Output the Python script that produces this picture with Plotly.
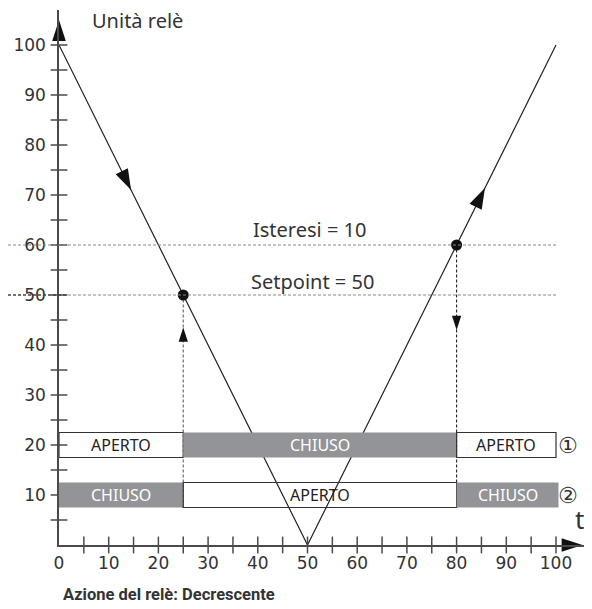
import plotly.graph_objects as go

# ---- data ----
V_X = [0, 50, 100]
V_Y = [100, 0, 100]
SETPOINT = 50
HYST_LEVEL = 60
SWITCH_POINTS_X = [25, 80]
SWITCH_POINTS_Y = [50, 60]

X_TICKS = list(range(0, 101, 10))
X_MINOR = list(range(5, 101, 5))
Y_TICKS = list(range(10, 101, 10))
Y_MINOR = list(range(5, 101, 5))

# relay bars: (start, end, state)
RELAY1_Y = 20
RELAY1_START = [0, 25, 80]
RELAY1_END = [25, 80, 100]
RELAY1_STATE = ["APERTO", "CHIUSO", "APERTO"]
RELAY2_Y = 10
RELAY2_START = [0, 25, 80]
RELAY2_END = [25, 80, 100.5]
RELAY2_STATE = ["CHIUSO", "APERTO", "CHIUSO"]
BAR_H = 5

# ---- layout constants (page has an 8px body margin) ----
W, H = 584, 601
ML, MR, MT, MB = 51, 0, 2, 64
PW = W - ML - MR
PH = H - MT - MB
PX_X = 4.97
PX_Y = 5.0
XMAX = PW / PX_X
YMAX = PH / PX_Y

GRAY = "#929497"
AX = "#4a4a4a"
TXT = "#333333"
FONT = "Noto Sans"
NUMFONT = "DejaVu Sans"

fig = go.Figure()

# V line
fig.add_trace(go.Scatter(x=V_X, y=V_Y, mode="lines",
                         line=dict(color="#222", width=1.2), hoverinfo="skip"))

# vertical dotted lines
fig.add_trace(go.Scatter(x=[SWITCH_POINTS_X[0]] * 2, y=[7.5, SWITCH_POINTS_Y[0]], mode="lines",
                         line=dict(color="#777", width=1.3, dash="3px,2px"), hoverinfo="skip"))
fig.add_trace(go.Scatter(x=[SWITCH_POINTS_X[1]] * 2, y=[7.5, SWITCH_POINTS_Y[1]], mode="lines",
                         line=dict(color="#222", width=1.1, dash="3px,2px"), hoverinfo="skip"))

shapes = []
# horizontal dotted lines (from page edge to x=100)
for lvl, col in [(HYST_LEVEL, "#888"), (SETPOINT, "#888")]:
    shapes.append(dict(type="line", xref="paper", yref="y",
                       x0=-ML / PW, x1=100 / XMAX, y0=lvl, y1=lvl,
                       line=dict(color=col, width=1.2, dash="3px,2px")))
shapes.append(dict(type="line", xref="paper", yref="y",
                   x0=-ML / PW, x1=8 / PW, y0=SETPOINT, y1=SETPOINT,
                   line=dict(color="#222", width=1.2, dash="3px,2px")))

annotations = []
for yc, starts, ends, states in [(RELAY1_Y, RELAY1_START, RELAY1_END, RELAY1_STATE),
                                 (RELAY2_Y, RELAY2_START, RELAY2_END, RELAY2_STATE)]:
    for s, e, st in zip(starts, ends, states):
        if st == "CHIUSO":
            shapes.append(dict(type="rect", xref="x", yref="y", x0=s, x1=e,
                               y0=yc - BAR_H / 2, y1=yc + BAR_H / 2,
                               fillcolor=GRAY, line=dict(width=0), layer="above"))
            tc = "white"
        else:
            shapes.append(dict(type="rect", xref="x", yref="y", x0=s, x1=e,
                               y0=yc - BAR_H / 2, y1=yc + BAR_H / 2,
                               fillcolor="rgba(0,0,0,0)", line=dict(color="#333", width=1.2),
                               layer="above"))
            tc = "#222"
        annotations.append(dict(x=(s + e) / 2, y=yc, text=st, showarrow=False,
                                font=dict(family=FONT, size=16, color=tc),
                                xref="x", yref="y"))

# axis tick marks (crossing)
fig.add_trace(go.Scatter(x=[0] * len(Y_MINOR), y=Y_MINOR, mode="markers",
                         marker=dict(symbol="line-ew", size=12, line=dict(color=AX, width=1.5)),
                         cliponaxis=False, hoverinfo="skip"))
fig.add_trace(go.Scatter(x=X_MINOR, y=[0] * len(X_MINOR), mode="markers",
                         marker=dict(symbol="line-ns", size=12, line=dict(color=AX, width=1.5)),
                         cliponaxis=False, hoverinfo="skip"))

# switching points
fig.add_trace(go.Scatter(x=SWITCH_POINTS_X, y=SWITCH_POINTS_Y, mode="markers",
                         marker=dict(color="#111", size=11), hoverinfo="skip"))

# direction arrows on V line
ang = 26.4
fig.add_trace(go.Scatter(x=[14.5, 85.7], y=[71, 71.4], mode="markers",
                         marker=dict(symbol="arrow", size=22, color="#111",
                                     angle=[180 - ang, ang]), hoverinfo="skip"))
# arrows on dotted verticals
fig.add_trace(go.Scatter(x=[25, 80], y=[43.5, 43], mode="markers",
                         marker=dict(symbol="arrow", size=15, color="#111", angle=[0, 180]),
                         hoverinfo="skip"))
# axis arrowheads
fig.add_trace(go.Scatter(x=[0, XMAX - 1.9], y=[YMAX - 2.0, 0], mode="markers",
                         marker=dict(symbol="arrow", size=22, color="#111", angle=[0, 90]),
                         cliponaxis=False, hoverinfo="skip"))

annotations += [
    dict(x=50.5, y=63.2, text="Isteresi = 10", showarrow=False,
         font=dict(family=FONT, size=20, color=TXT)),
    dict(x=51, y=52.8, text="Setpoint = 50", showarrow=False,
         font=dict(family=FONT, size=20, color=TXT)),
    dict(x=6.3, y=YMAX - 2.0, text="Unità relè", showarrow=False, xanchor="left",
         yanchor="middle", font=dict(family=FONT, size=20, color=TXT)),
    dict(x=102.5, y=RELAY1_Y, text="①", showarrow=False,
         font=dict(family=NUMFONT, size=22, color=TXT)),
    dict(x=102.5, y=RELAY2_Y, text="②", showarrow=False,
         font=dict(family=NUMFONT, size=22, color=TXT)),
    dict(x=104.7, y=5.2, text="t", showarrow=False,
         font=dict(family=FONT, size=26, color=TXT)),
    dict(x=0.5 / XMAX, xref="paper", y=-(586 - (MT + PH)) / PH, yref="paper",
         text="<b>Azione del relè: Decrescente</b>", showarrow=False, xanchor="left",
         yanchor="middle", font=dict(family="Roboto", size=16.5, color=TXT)),
]

fig.update_layout(
    width=W, height=H,
    margin=dict(l=ML, r=MR, t=MT, b=MB),
    plot_bgcolor="white", paper_bgcolor="white",
    showlegend=False,
    shapes=shapes, annotations=annotations,
    font=dict(family=FONT, color=TXT),
    xaxis=dict(range=[0, XMAX], showgrid=False, zeroline=False, showline=True,
               linecolor=AX, linewidth=1.5, tickvals=X_TICKS, ticks="", automargin=False,
               tickfont=dict(family=NUMFONT, size=17, color=TXT), ticklabelstandoff=2,
               fixedrange=True),
    yaxis=dict(range=[0, YMAX], showgrid=False, zeroline=False, showline=True,
               linecolor=AX, linewidth=1.5, tickvals=Y_TICKS, ticks="", automargin=False,
               tickfont=dict(family=NUMFONT, size=17, color=TXT), ticklabelstandoff=8,
               fixedrange=True),
)

fig.write_html("out.html")
